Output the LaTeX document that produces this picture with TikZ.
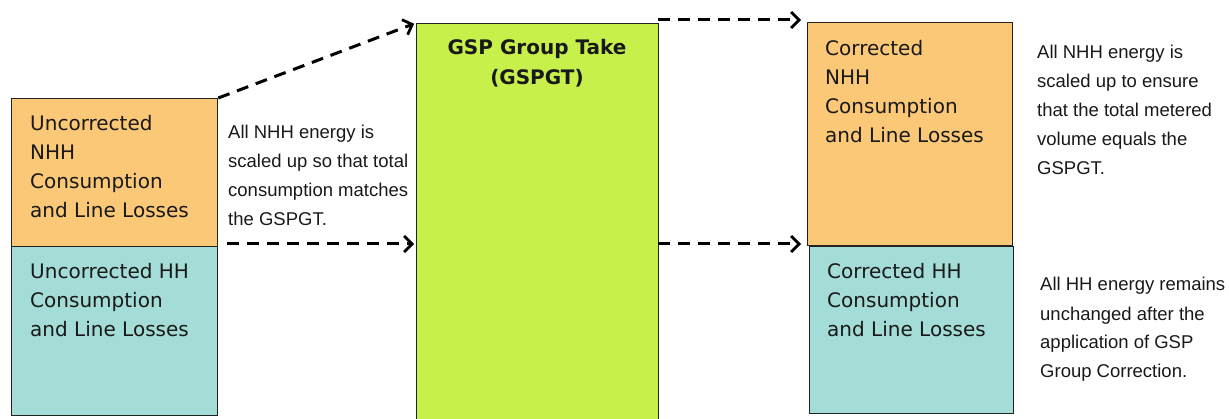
\documentclass[tikz,border=0pt]{standalone}
\usepackage{fontspec}
\newfontfamily\boxfont{DejaVu Sans}
\newfontfamily\notefont{Liberation Sans}
\usetikzlibrary{arrows.meta}
\definecolor{nhhfill}{HTML}{FBC877}
\definecolor{hhfill}{HTML}{A4DDD8}
\definecolor{gspfill}{HTML}{C8F04B}
\definecolor{edge}{HTML}{222222}
\tikzset{
  blockbox/.style={draw=edge, line width=1.3pt, inner sep=0pt, anchor=north west},
  boxtext/.style={inner sep=0pt, anchor=base west, align=left, font=\boxfont\fontsize{20}{29}\selectfont, text=black!90},
  notetext/.style={inner sep=0pt, anchor=base west, align=left, font=\notefont\fontsize{18.5}{29}\selectfont, text=black!90},
  flow/.style={draw=black, line width=3pt, dash pattern=on 12pt off 8pt, -{Straight Barb[length=8pt,width=16pt,line width=2.8pt]}},
}
\begin{document}
\begin{tikzpicture}[x=1pt,y=-1pt]
\useasboundingbox (0,0) rectangle (1229,419);
% boxes
\node[blockbox, fill=nhhfill, minimum width=206pt, minimum height=148pt] (lnhh) at (11,98) {};
\node[blockbox, fill=hhfill, minimum width=206pt, minimum height=169pt] (lhh) at (11,246) {};
\node[blockbox, fill=gspfill, minimum width=242pt, minimum height=410pt] (gsp) at (416,23) {};
\node[blockbox, fill=nhhfill, minimum width=205pt, minimum height=223pt] (rnhh) at (807,22) {};
\node[blockbox, fill=hhfill, minimum width=204pt, minimum height=167pt] (rhh) at (809,246) {};
% box texts (anchored at the baseline of their last line)
\node[boxtext] (t1) at (30,218) {Uncorrected\\NHH\\Consumption\\and Line Losses};
\node[boxtext] (t2) at (30,337) {Uncorrected HH\\Consumption\\and Line Losses};
\node[inner sep=0pt, anchor=base, align=center, font=\boxfont\bfseries\fontsize{20}{30}\selectfont, text=black!90] (t3) at (537,85) {GSP Group Take\\(GSPGT)};
\node[boxtext] (t4) at (825,143) {Corrected\\NHH\\Consumption\\and Line Losses};
\node[boxtext] (t5) at (827,337) {Corrected HH\\Consumption\\and Line Losses};
% notes
\node[notetext] (n1) at (228,226) {All NHH energy is\\scaled up so that total\\consumption matches\\the GSPGT.};
\node[notetext] (n2) at (1037,175) {All NHH energy is\\scaled up to ensure\\that the total metered\\volume equals the\\GSPGT.};
\node[notetext] (n3) at (1040,378) {All HH energy remains\\unchanged after the\\application of GSP\\Group Correction.};
% connector end points
\coordinate (a2s) at (227,244);
\coordinate (a3s) at (658,20);
\coordinate (a4s) at (658,244);
% connectors
\draw[flow, shorten >=2pt] (lnhh.north east) -- (gsp.north west);
\draw[flow, shorten >=2pt] (a2s) -- (a2s -| gsp.west);
\draw[flow, shorten >=6pt] (a3s) -- (a3s -| rnhh.west);
\draw[flow, shorten >=8pt] (a4s) -- (a4s -| rhh.west);
\end{tikzpicture}
\end{document}
